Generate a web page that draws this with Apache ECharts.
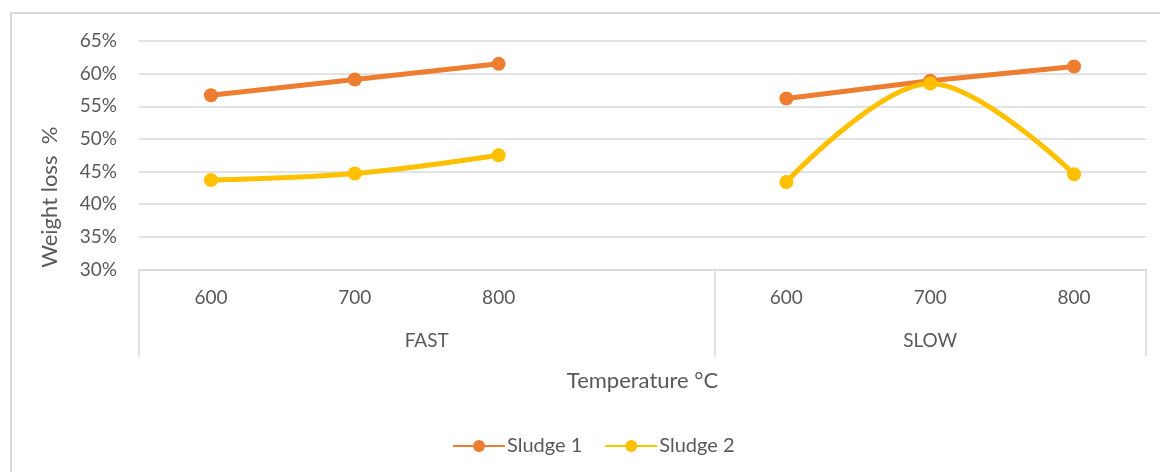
<!DOCTYPE html>
<html>
<head>
<meta charset="utf-8">
<script src="https://cdn.jsdelivr.net/npm/echarts@6/dist/echarts.min.js"></script>
<style>
  html, body { margin: 0; padding: 0; background: #fff; }
  #wrap { position: relative; width: 1160px; height: 472px; overflow: hidden; }
  #frame { position: absolute; left: 10px; top: 12px; width: 1200px; height: 520px;
           border-left: 2px solid #d9d9d9; border-top: 2px solid #d9d9d9; pointer-events: none; }
  #chart { position: absolute; left: 0; top: 0; width: 1160px; height: 472px; }
</style>
</head>
<body>
<div id="wrap">
  <div id="frame"></div>
  <div id="chart"></div>
</div>
<script>
// Temperature categories; the empty slot separates the two heating-rate groups
const categories = ['600', '700', '800', '', '600', '700', '800'];
// Heating-rate groups and how many category slots each one covers
const groupNames = ['FAST', 'SLOW'];
const groupSizes = [4, 3];
// Weight loss (%) per temperature
const sludge1 = [56.7, 59.1, 61.5, null, 56.2, 58.9, 61.1];
const sludge2 = [43.7, 44.7, 47.5, null, 43.4, 58.5, 44.6];
// Value axis ticks
const yMin = 30, yMax = 65, yStep = 5;

// Group label centres and boundaries in category-index units
const groupCenters = [];
const groupEdges = [-0.5];
let start = 0;
groupSizes.forEach(function (n) {
  groupCenters.push(start + (n - 1) / 2);
  start += n;
  groupEdges.push(start - 0.5);
});

const FONT = 'Lato, "Open Sans", sans-serif';
const TXT = '#595959';
const GRID = '#d9d9d9';

const chart = echarts.init(document.getElementById('chart'), null, { renderer: 'canvas' });
chart.setOption({
  animation: false,
  textStyle: { fontFamily: FONT },
  grid: { left: 139, right: 14, top: 41, bottom: 202.5, containLabel: false },
  legend: {
    left: 447, top: 431,
    itemWidth: 52, itemHeight: 15, itemGap: 22,
    textStyle: { fontFamily: FONT, fontSize: 20, color: TXT, padding: [0, 0, 0, -3] },
    data: ['Sludge 1', 'Sludge 2']
  },
  xAxis: [
    {
      type: 'category',
      data: categories,
      boundaryGap: true,
      axisLine: { show: true, lineStyle: { color: GRID, width: 1.5 } },
      axisTick: { show: false },
      axisLabel: { margin: 19, fontSize: 19, color: TXT, fontFamily: FONT },
      splitLine: { show: false },
      name: 'Temperature °C',
      nameLocation: 'middle',
      nameGap: 100,
      nameTextStyle: { fontSize: 22, color: TXT, fontFamily: FONT }
    },
    {
      type: 'value',
      min: -0.5,
      max: categories.length - 0.5,
      position: 'bottom',
      axisLine: { show: false },
      splitLine: { show: false },
      axisTick: {
        show: true, inside: false, length: 87,
        customValues: groupEdges,
        lineStyle: { color: GRID, width: 1.5 }
      },
      axisLabel: {
        show: true, margin: 62, fontSize: 19, color: TXT, fontFamily: FONT,
        customValues: groupCenters,
        formatter: function (v) {
          const i = groupCenters.indexOf(v);
          return i >= 0 ? groupNames[i] : '';
        }
      }
    }
  ],
  yAxis: {
    type: 'value',
    min: yMin, max: yMax, interval: yStep,
    axisLine: { show: false },
    axisTick: { show: false },
    splitLine: { show: true, lineStyle: { color: GRID, width: 1.5 } },
    axisLabel: { formatter: '{value}%', fontSize: 19, color: TXT, margin: 22, fontFamily: FONT },
    name: 'Weight loss  %',
    nameLocation: 'middle',
    nameGap: 78,
    nameRotate: 90,
    nameTextStyle: { fontSize: 22, color: TXT, fontFamily: FONT, padding: [0, 84, 0, 0] }
  },
  series: [
    {
      name: 'Sludge 1',
      type: 'line',
      data: sludge1,
      connectNulls: false,
      symbol: 'circle', symbolSize: 14,
      lineStyle: { color: '#ED7D31', width: 5 },
      itemStyle: { color: '#ED7D31' }
    },
    {
      name: 'Sludge 2',
      type: 'line',
      data: sludge2,
      smooth: 0.35,
      connectNulls: false,
      symbol: 'circle', symbolSize: 14,
      lineStyle: { color: '#FFC000', width: 5 },
      itemStyle: { color: '#FFC000' }
    }
  ]
});
</script>
</body>
</html>
